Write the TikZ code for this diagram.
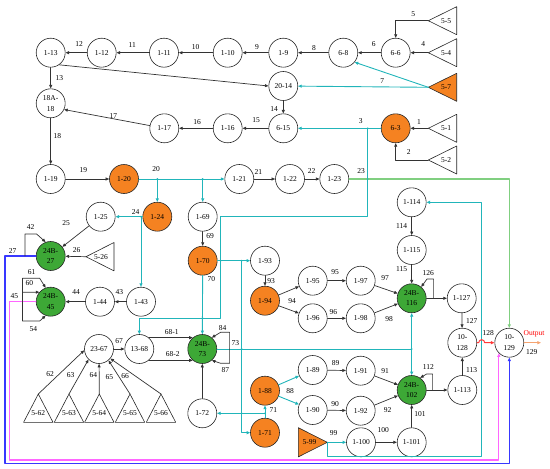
\documentclass[tikz,border=0pt]{standalone}
\usepackage{fontspec}
\setmainfont{Liberation Serif}
\usetikzlibrary{arrows.meta}
\definecolor{ffvvqq}{rgb}{0.96,0.51,0.13}
\definecolor{qqwwqq}{rgb}{0.24,0.66,0.21}
\definecolor{qqzzzz}{rgb}{0.13,0.71,0.73}
\definecolor{vvccvv}{rgb}{0.50,0.81,0.50}
\definecolor{ffttff}{rgb}{1,0.40,1}
\definecolor{ttttff}{rgb}{0.22,0.22,1}
\definecolor{ffttqq}{rgb}{1,0.22,0.22}
\definecolor{ffaavv}{rgb}{0.96,0.64,0.44}

\begin{document}
\begin{tikzpicture}[line cap=round,line join=round,>={Triangle[length=3.6pt,width=3pt]},x=1pt,y=-1pt,
  st/.style={circle,draw=black!85,line width=0.6pt,minimum size=29pt,inner sep=0pt,align=center,font=\fontsize{7.5}{10.5}\selectfont},
  ost/.style={st,fill=ffvvqq},
  gst/.style={st,fill=qqwwqq},
  lab/.style={inner sep=0pt,font=\fontsize{7.5}{9}\selectfont},
  ed/.style={draw=black!80,line width=0.7pt,->},
  cy/.style={draw=qqzzzz,line width=0.9pt,->},
  gl/.style={draw=vvccvv,line width=1.1pt,->},
  bl/.style={draw=ttttff,line width=1.1pt,->},
  mg/.style={draw=ffttff,line width=1.1pt,->},
  rd/.style={draw=ffttqq,line width=1pt,->},
  og/.style={draw=ffaavv,line width=1.1pt,->}]
\useasboundingbox (0,0) rectangle (550,469);
% sources (triangles)
\foreach \n/\y/\c in {5-5/20.7/white,5-4/52.7/white,5-7/87.3/ffvvqq,5-1/128.3/white,5-2/160/white}{
  \draw[fill=\c,draw=black!85,line width=0.6pt] (428.3,\y) coordinate (t\n) -- (456.7,{\y-14}) -- (456.7,{\y+14}) -- cycle;
  \node[lab] (s\n) at (446,\y) {\n};
}
\draw[draw=black!85,line width=0.6pt] (86,256.7) coordinate (t5-26) -- (114,242.5) -- (114,270.9) -- cycle;
\node[lab] (s5-26) at (101,256.7) {5-26};
\foreach \n/\x in {5-62/38.3,5-63/69,5-64/99.3,5-65/130,5-66/161}{
  \draw[draw=black!85,line width=0.6pt] (\x,394) coordinate (t\n) -- ({\x+14.7},422.3) -- ({\x-14.7},422.3) -- cycle;
  \node[lab] (s\n) at (\x,413.3) {\n};
}
\draw[fill=ffvvqq,draw=black!85,line width=0.6pt] (327.3,442.3) coordinate (t5-99) -- (298.3,427.7) -- (298.3,456.9) -- cycle;
\node[lab] (s5-99) at (309.5,442.3) {5-99};
% stations
\node[st] (n113) at (50.7,52.7) {1-13};
\node[st] (n112) at (101.7,52.7) {1-12};
\node[st] (n111) at (164,52.7) {1-11};
\node[st] (n110) at (227.7,52.7) {1-10};
\node[st] (n109) at (283.3,52.7) {1-9};
\node[st] (n68) at (343.3,52.7) {6-8};
\node[st] (n66) at (395.7,52.7) {6-6};
\node[st] (n2014) at (283.3,86) {20-14};
\node[st] (n615) at (283.3,128.3) {6-15};
\node[ost] (n63) at (395.7,128.3) {6-3};
\node[st] (n18) at (50.7,103.3) {18A-\\18};
\node[st] (n117) at (164.3,128.3) {1-17};
\node[st] (n116) at (227.7,128.3) {1-16};
\node[st] (n119) at (50.7,179) {1-19};
\node[ost] (n120) at (124,179) {1-20};
\node[st] (n121) at (239.3,179) {1-21};
\node[st] (n122) at (290,179) {1-22};
\node[st] (n123) at (334.3,179) {1-23};
\node[ost] (n124) at (157.3,216.7) {1-24};
\node[st] (n125) at (100.7,216.7) {1-25};
\node[st] (n169) at (202.7,216.7) {1-69};
\node[gst] (b27) at (50.7,256) {24B-\\27};
\node[ost] (n170) at (202.7,260.7) {1-70};
\node[st] (n193) at (265,260.7) {1-93};
\node[gst] (b45) at (50.7,301.7) {24B-\\45};
\node[st] (n144) at (100,301.7) {1-44};
\node[st] (n143) at (141,301.7) {1-43};
\node[ost] (n194) at (265,300.7) {1-94};
\node[st] (n195) at (312.7,280.7) {1-95};
\node[st] (n196) at (312.7,318.3) {1-96};
\node[st] (n197) at (360.7,280.7) {1-97};
\node[st] (n198) at (360.7,318.3) {1-98};
\node[gst] (b116) at (411.7,298.3) {24B-\\116};
\node[st] (n1114) at (411.7,202.3) {1-114};
\node[st] (n1115) at (411.7,250) {1-115};
\node[st] (n1127) at (461.7,298.3) {1-127};
\node[st] (n10128) at (462.3,342.7) {10-\\128};
\node[st] (n10129) at (509.3,342.7) {10-\\129};
\node[st] (n2367) at (99,349) {23-67};
\node[st] (n1368) at (139.3,349) {13-68};
\node[gst] (b73) at (202.3,349) {24B-\\73};
\node[st] (n172) at (202.3,413.3) {1-72};
\node[ost] (n188) at (265,390.7) {1-88};
\node[ost] (n171) at (265,432.7) {1-71};
\node[st] (n189) at (312.7,370) {1-89};
\node[st] (n190) at (312.7,410) {1-90};
\node[st] (n191) at (360.7,370.7) {1-91};
\node[st] (n192) at (360.7,410.7) {1-92};
\node[gst] (b102) at (411.7,390) {24B-\\102};
\node[st] (n1113) at (462.3,390) {1-113};
\node[st] (n1100) at (361,442.3) {1-100};
\node[st] (n1101) at (411.7,442.3) {1-101};
% long lines
\draw[gl] (n123) -| (n10129);
\draw[bl] (b27) -| (5,463.3) -| (n10129);
\draw[mg] (b45) -| (9.3,460) -| (n10129.-135);
% cyan lines
\draw[cy] (t5-7) -- (n68.-40);
\draw[cy] (t5-7) -- (n2014);
\draw[cy] (n63) -- (n615);
\coordinate (j63) at (367.7,128.3);
\draw[cy] (j63) |- (220.7,216.2) |- (139.3,318.3) -- (n1368);
\draw[cy] (n120) -- (n121);
\draw[cy] (n120 -| n124) -- (n124);
\draw[cy] (n120 -| n169) -- (n169);
\draw[cy] (n124) -- (n125);
\draw[cy] (n124 -| n143) -- (n143);
\draw[cy] (n170) -- (n193);
\coordinate (j70) at (241.7,260.7);
\draw[cy] (j70) |- (n171);
\draw[cy] (n170) -- (b73);
\draw[cy,-] (b73) -- (b73 -| b116);
\draw[cy] (b73 -| b116) -- (b116);
\draw[cy] (b73 -| b116) -- (b102);
\draw[cy] (n171) -- (n188);
\draw[cy] (n171 |- n172) -- (n172);
\draw[cy] (n188) -- (n189);
\draw[cy] (n188) -- (n190);
\draw[cy] (t5-99) -- (n1100);
\draw[cy] (t5-99) |- (481.7,456.9) |- (n1114);
\foreach \p in {(157.3,179),(202.7,179),(141,216.7),(367.7,128.3),(367.7,179),(220.7,260.7),(241.7,260.7),(202.7,318.3),(241.7,349),(241.7,413.3),(265,413.3),(411.7,349)}
  \fill[qqzzzz] \p circle (1);
% black lines
\draw[ed] (t5-5) -| (n66);
\draw[ed] (t5-4) -- (n66);
\draw[ed] (n66) -- (n68);
\draw[ed] (n68) -- (n109);
\draw[ed] (n109) -- (n110);
\draw[ed] (n110) -- (n111);
\draw[ed] (n111) -- (n112);
\draw[ed] (n112) -- (n113);
\draw[ed] (n113) -- (n18);
\draw[ed] (n113.-55) -- (n2014.west);
\draw[ed] (n2014) -- (n615);
\draw[ed] (t5-1) -- (n63);
\draw[ed] (t5-2) -| (n63);
\draw[ed] (n615) -- (n116);
\draw[ed] (n116) -- (n117);
\draw[ed] (n117) -- (n18.-25);
\draw[ed] (n18) -- (n119);
\draw[ed] (n119) -- (n120);
\draw[ed] (n121) -- (n122);
\draw[ed] (n122) -- (n123);
\draw[ed] (n125) -- (b27);
\draw[ed] (t5-26) -- (b27);
\draw[ed] (n143) -- (n144);
\draw[ed] (n144) -- (b45);
\draw[ed] (n169) -- (n170);
\draw[ed] (n193) -- (n194);
\draw[ed] (n194) -- (n195);
\draw[ed] (n194) -- (n196);
\draw[ed] (n195) -- (n197);
\draw[ed] (n196) -- (n198);
\draw[ed] (n197) -- (b116);
\draw[ed] (n198) -- (b116);
\draw[ed] (n1114) -- (n1115);
\draw[ed] (n1115) -- (b116);
\draw[ed] (b116) -- (n1127);
\draw[ed] (n1127) -- (n10128);
\draw[ed] (n1113) -- (n10128);
\draw[ed] (b102) -- (n1113);
\draw[ed] (n189) -- (n191);
\draw[ed] (n190) -- (n192);
\draw[ed] (n191) -- (b102);
\draw[ed] (n192) -- (b102);
\draw[ed] (n1100) -- (n1101);
\draw[ed] (n1101) -- (b102);
\draw[ed] (n172) -- (b73);
\draw[ed] (n2367) -- (n1368);
\draw[ed] (n1368.50) -- (b73.130);
\draw[ed] (n1368.-50) -- (b73.-130);
\draw[ed] (t5-62) -- (n2367.185);
\draw[ed] (t5-63) -- (n2367.225);
\draw[ed] (t5-64) -- (n2367);
\draw[ed] (t5-65) -- (n2367.-50);
\draw[ed] (t5-66) -- (n2367.-40);
% loops
\coordinate (c27) at ([xshift=-11pt]b27.west);
\draw[ed] (c27) -- ++(0,-22) -- ++(11.7,0) -- (b27.110);
\coordinate (c45) at ([xshift=-13.5pt]b45.west);
\draw[ed] (c45) -- ++(0,-23.4) -- ++(17.3,0) -- (b45.110);
\draw[ed] (c45) ++(0,-9.5) -- (b45.140);
\draw[ed] (c45) -- ++(0,19.3) -- ++(17.3,0) -- (b45.-110);
\coordinate (c73) at ([xshift=12.5pt]b73.east);
\draw[ed] (c73) -- ++(0,-16.7) -- ++(-9,0) -- (b73.50);
\draw[ed] (c73) -- ++(0,14.3) -- ++(-9,0) -- (b73.-50);
\coordinate (c116) at ([xshift=7.1pt]b116.east);
\draw[ed] (c116) -- ++(0,-19.3) -- ++(-6.6,0) -- (b116.50);
\coordinate (c102) at ([xshift=6.1pt]b102.east);
\draw[ed] (c102) -- ++(0,-16) -- ++(-6,0) -- (b102.55);
% output
\draw[rd] (n10128) -- (478.7,342.7) arc (180:360:3) -- (n10129);
\coordinate (out) at (541,342.7);
\draw[og] (n10129) -- (out);
\node[lab,text=red] (lout) at (534,334.3) {Output};
% flow numbers
\foreach \t/\x/\y in {5/413.3/14,4/423.3/44.3,6/373.7/44.3,8/314/48,9/257/46.7,10/195.7/46.7,11/132.3/45,12/79/44,
  13/59.3/78,7/382.3/81,14/274/109,1/419/121.7,2/408.7/152.3,3/360.7/121,15/256/120,16/197/122,17/113.3/116,18/57.3/135.7,
  19/83.3/170,20/156/169.3,21/258.3/171.7,22/311.7/170.7,23/361/170.7,24/135.7/212.3,25/66/222.7,26/76.7/250,27/12.7/250.7,
  42/30.7/226.7,61/31.7/271.7,60/29.3/283.3,45/14.3/296,54/33.3/329,43/119.3/292.3,44/76/292.3,69/210/236,70/211.3/279.3,
  93/271/280.7,94/292/300.7,95/335/271.7,96/333.3/311.7,97/385/278.3,98/389/319.3,114/401.7/226,115/401.7/269.3,
  126/428.3/272.7,127/471.7/320.7,128/488.3/333.3,129/531.7/351.7,67/119/340.7,68-1/171.7/332.3,68-2/172.7/354.3,
  84/222.7/328.3,87/225.3/370,73/235.3/342.7,62/50/374,63/70.7/375,64/93.3/375,65/109.3/376.7,66/125/376,
  88/290/390.7,71/273.3/410,89/335.7/362.7,90/335/404,91/385/370.7,92/387.7/410,99/333.7/433.3,100/383.3/430,
  101/420/414,112/428.3/366.7,113/471.7/370}
  \node[lab] (l\t) at (\x,\y) {\t};
\end{tikzpicture}
\end{document}
